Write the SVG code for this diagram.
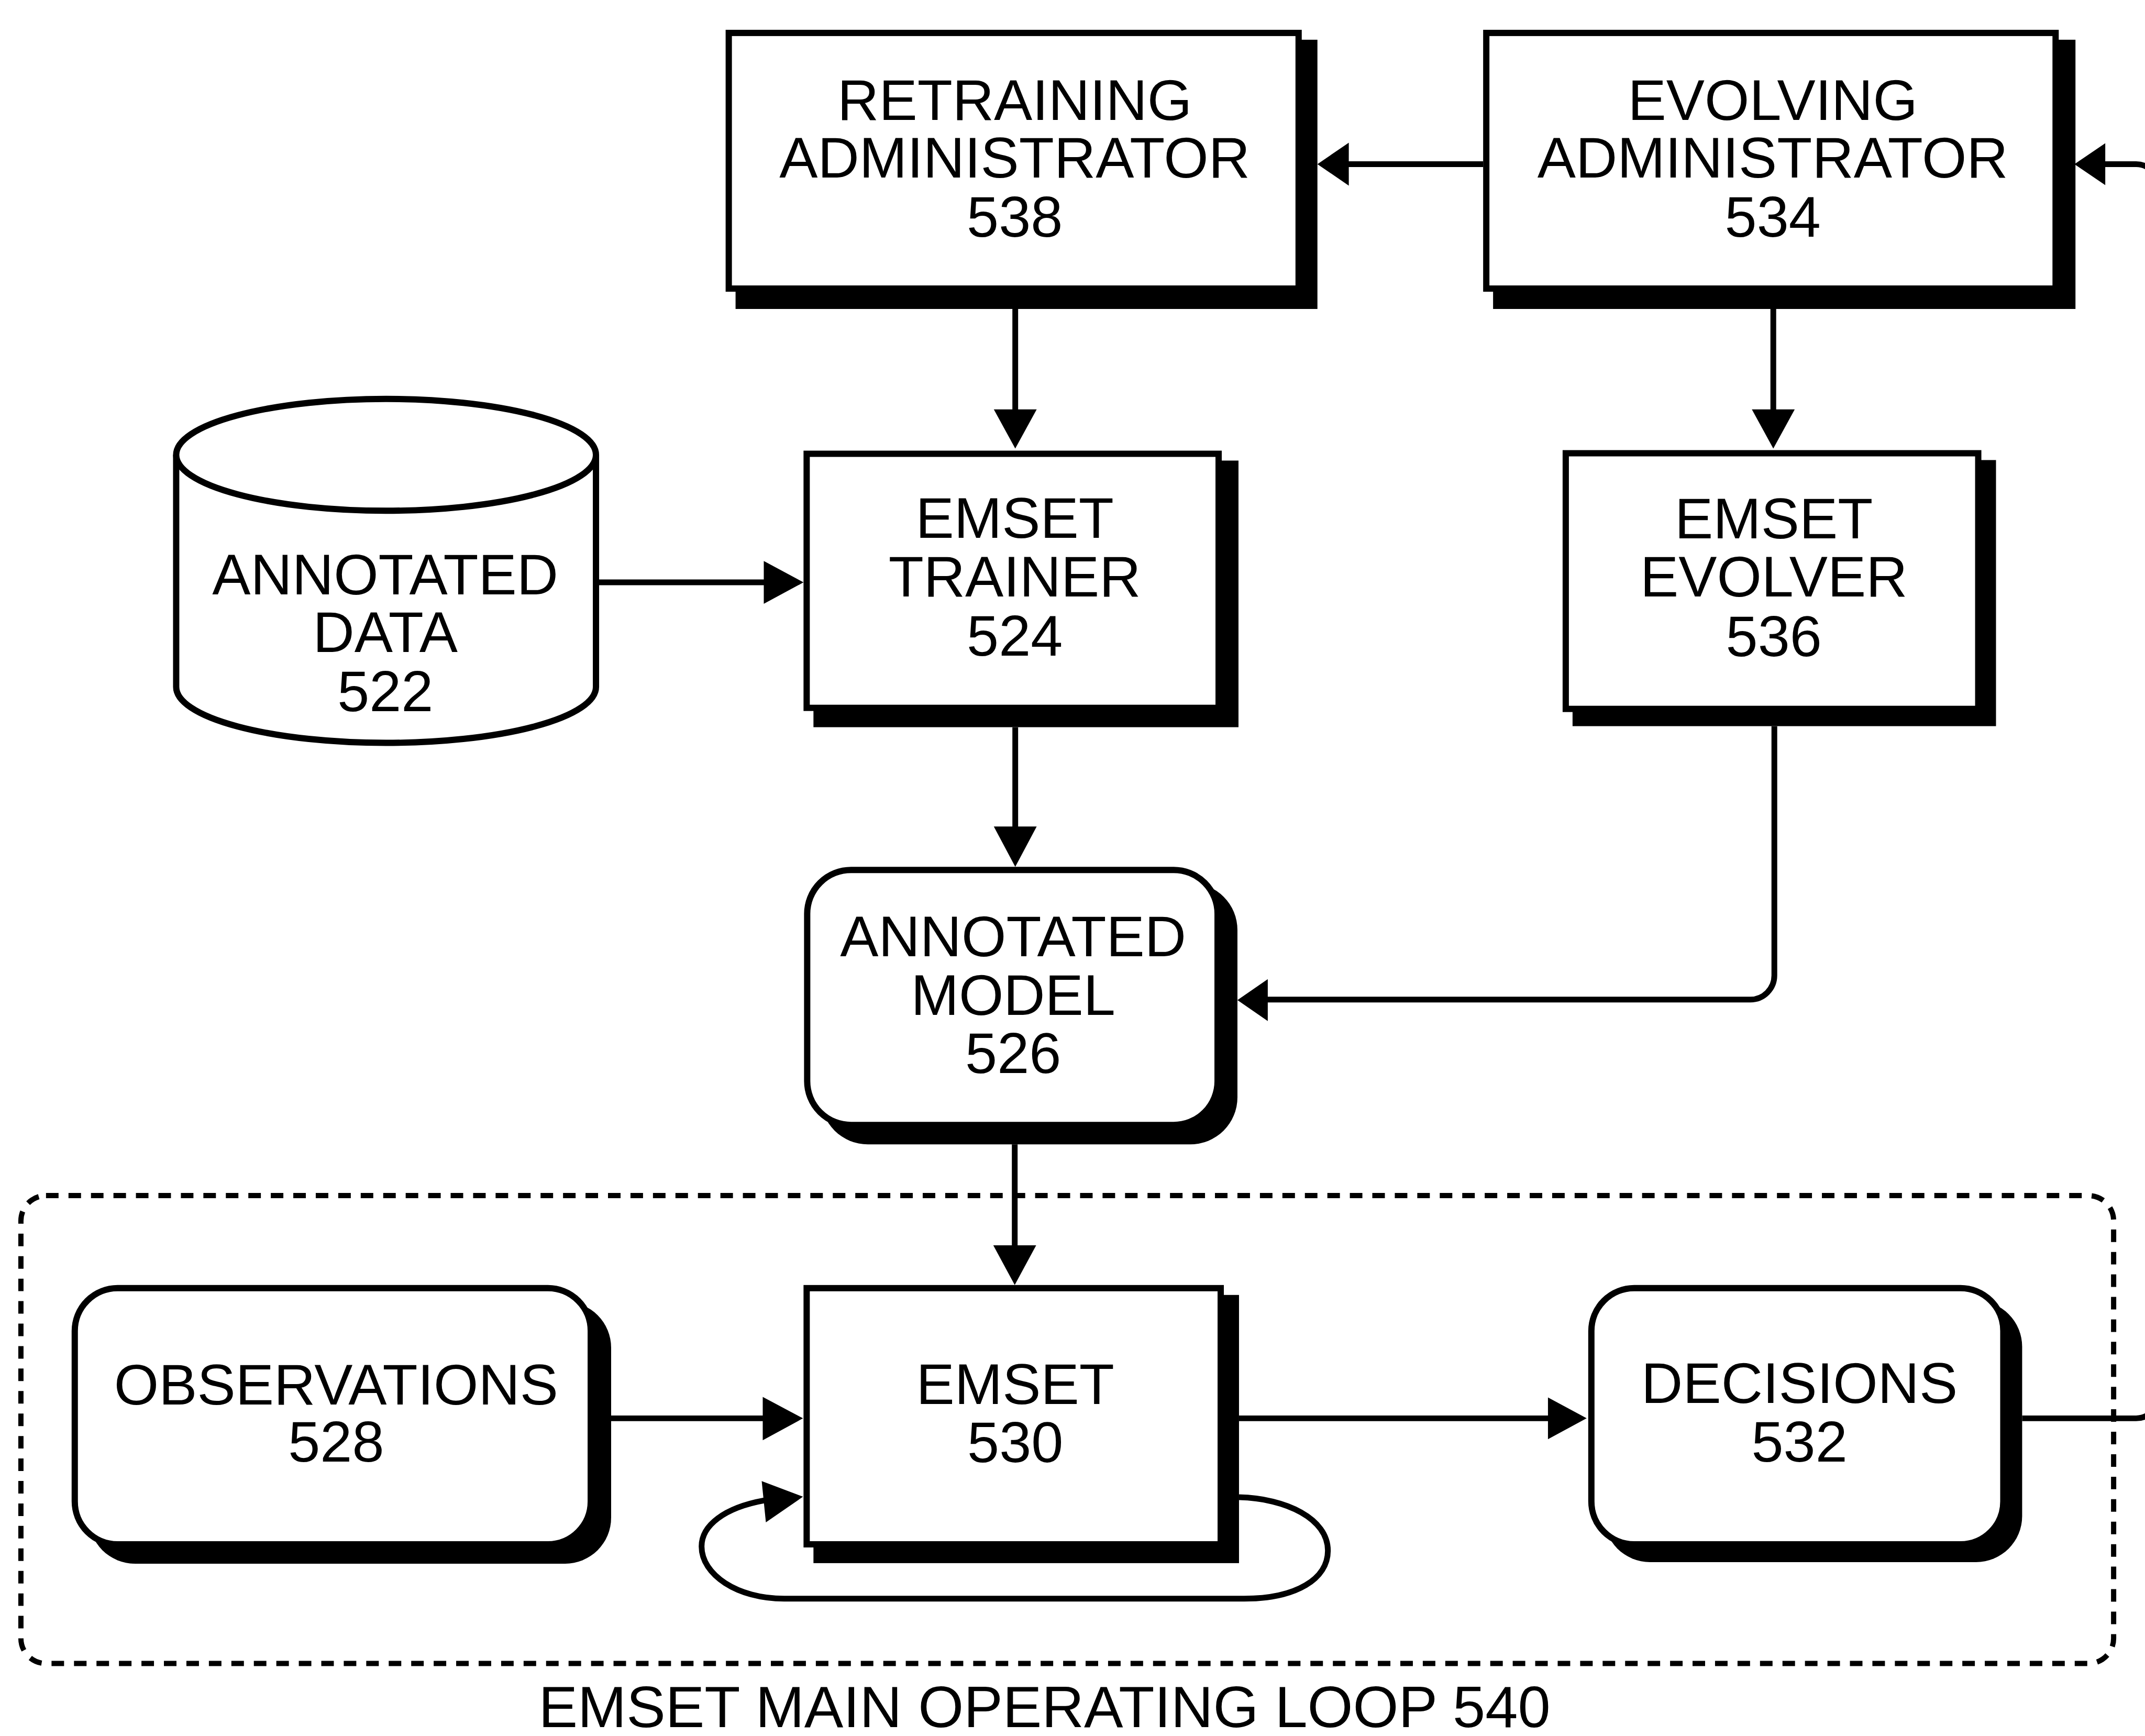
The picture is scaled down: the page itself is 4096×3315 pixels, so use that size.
<svg xmlns="http://www.w3.org/2000/svg" width="4096" height="3315" viewBox="0 0 4096 3315">
  <defs>
    <style>
      .box { fill: #fff; stroke: #000; stroke-width: 12; }
      .shadow { fill: #000; stroke: none; }
      .line { fill: none; stroke: #000; stroke-width: 11; }
      .head { fill: #000; stroke: none; }
      .frame { fill: none; stroke: #000; stroke-width: 10; stroke-dasharray: 24 19; }
      text { font-family: "Liberation Sans", Arial, Helvetica, sans-serif; font-size: 110px; fill: #000; text-anchor: middle; }
      .caption { font-size: 112px; }
    </style>
  </defs>
  <rect width="4096" height="3315" fill="#fff"/>
  <g transform="scale(0.998294)">

    <!-- main operating loop frame -->
    <g id="loop540">
      <rect class="frame" x="40" y="2287" width="4003" height="895" rx="48" ry="48"/>
      <text class="caption" x="1998" y="3304">EMSET MAIN OPERATING LOOP 540</text>
    </g>

    <!-- connectors -->
    <g id="connectors">
      <!-- evolving administrator to retraining administrator -->
      <path class="line" d="M2837 314 H2575"/>
      <polygon class="head" points="2520,314 2580,273 2580,355"/>
      <!-- incoming from the right into evolving administrator -->
      <path class="line" d="M4020 314 H4086 A42 42 0 0 1 4128 356"/>
      <polygon class="head" points="3968,314 4027,274 4027,354"/>
      <!-- retraining administrator to trainer -->
      <path class="line" d="M1942 591 V790"/>
      <polygon class="head" points="1942,858 1901,783 1983,783"/>
      <!-- evolving administrator to evolver -->
      <path class="line" d="M3392 591 V790"/>
      <polygon class="head" points="3392,858 3351,783 3433,783"/>
      <!-- annotated data to trainer -->
      <path class="line" d="M1145 1114 H1468"/>
      <polygon class="head" points="1537,1114 1461,1073 1461,1155"/>
      <!-- trainer to annotated model -->
      <path class="line" d="M1942 1391 V1590"/>
      <polygon class="head" points="1942,1658 1901,1581 1983,1581"/>
      <!-- evolver to annotated model -->
      <path class="line" d="M3394 1389 V1866 A46 46 0 0 1 3348 1912 H2420"/>
      <polygon class="head" points="2367,1913 2425,1873 2425,1953"/>
      <!-- annotated model to emset -->
      <path class="line" d="M1941 2189 V2390"/>
      <polygon class="head" points="1941,2458 1900,2382 1982,2382"/>
      <!-- observations to emset -->
      <path class="line" d="M1169 2713 H1466"/>
      <polygon class="head" points="1536,2713 1459,2672 1459,2755"/>
      <!-- emset feedback loop -->
      <path class="line" d="M1462 2870 C1385 2884 1342 2918 1342 2958 C1342 3012 1410 3058 1500 3058 L2380 3058 C2480 3058 2540 3020 2540 2966 C2540 2905 2460 2866 2370 2864"/>
      <polygon class="head" points="1536,2863 1457,2833 1465,2912"/>
      <!-- emset to decisions -->
      <path class="line" d="M2370 2713 H2966"/>
      <polygon class="head" points="3035,2713 2961,2673 2961,2753"/>
      <!-- decisions outward -->
      <path class="line" d="M3868 2713 H4086 A42 42 0 0 0 4128 2671"/>
    </g>

    <!-- retraining administrator -->
    <g id="node538">
      <rect class="shadow" x="1407" y="76" width="1113" height="515"/>
      <rect class="box" x="1394" y="63" width="1090" height="489"/>
      <text x="1941" y="229">RETRAINING</text>
      <text x="1941" y="340">ADMINISTRATOR</text>
      <text x="1941" y="453">538</text>
    </g>

    <!-- evolving administrator -->
    <g id="node534">
      <rect class="shadow" x="2856" y="76" width="1114" height="515"/>
      <rect class="box" x="2843" y="63" width="1089" height="489"/>
      <text x="3391" y="229">EVOLVING</text>
      <text x="3391" y="340">ADMINISTRATOR</text>
      <text x="3391" y="453">534</text>
    </g>

    <!-- annotated data store -->
    <g id="node522">
      <path class="box" d="M337 870 V1314 A401.5 107 0 0 0 1140 1314 V870"/>
      <ellipse class="box" cx="738.5" cy="870" rx="401.5" ry="107"/>
      <text x="737" y="1137">ANNOTATED</text>
      <text x="737" y="1247">DATA</text>
      <text x="737" y="1360">522</text>
    </g>

    <!-- trainer -->
    <g id="node524">
      <rect class="shadow" x="1556" y="881" width="813" height="510"/>
      <rect class="box" x="1543" y="868" width="788" height="486"/>
      <text x="1941" y="1029">EMSET</text>
      <text x="1941" y="1141">TRAINER</text>
      <text x="1941" y="1254">524</text>
    </g>

    <!-- evolver -->
    <g id="node536">
      <rect class="shadow" x="3008" y="880" width="810" height="509"/>
      <rect class="box" x="2995" y="867" width="789" height="489"/>
      <text x="3393" y="1030">EMSET</text>
      <text x="3393" y="1141">EVOLVER</text>
      <text x="3393" y="1255">536</text>
    </g>

    <!-- annotated model -->
    <g id="node526">
      <rect class="shadow" x="1570" y="1689" width="797" height="500" rx="90" ry="90"/>
      <rect class="box" x="1544" y="1664" width="785" height="488" rx="84" ry="84"/>
      <text x="1938" y="1829">ANNOTATED</text>
      <text x="1938" y="1941">MODEL</text>
      <text x="1938" y="2053">526</text>
    </g>

    <!-- observations -->
    <g id="node528">
      <rect class="shadow" x="170" y="2490" width="999" height="501" rx="88" ry="88"/>
      <rect class="box" x="143" y="2464" width="987" height="490" rx="82" ry="82"/>
      <text x="643" y="2687">OBSERVATIONS</text>
      <text x="643" y="2796">528</text>
    </g>

    <!-- emset -->
    <g id="node530">
      <rect class="shadow" x="1556" y="2477" width="814" height="513"/>
      <rect class="box" x="1543" y="2464" width="792" height="490"/>
      <text x="1942" y="2686">EMSET</text>
      <text x="1942" y="2797">530</text>
    </g>

    <!-- decisions -->
    <g id="node532">
      <rect class="shadow" x="3068" y="2488" width="800" height="500" rx="88" ry="88"/>
      <rect class="box" x="3044" y="2464" width="788" height="490" rx="82" ry="82"/>
      <text x="3442" y="2684">DECISIONS</text>
      <text x="3442" y="2796">532</text>
    </g>
  </g>
</svg>
